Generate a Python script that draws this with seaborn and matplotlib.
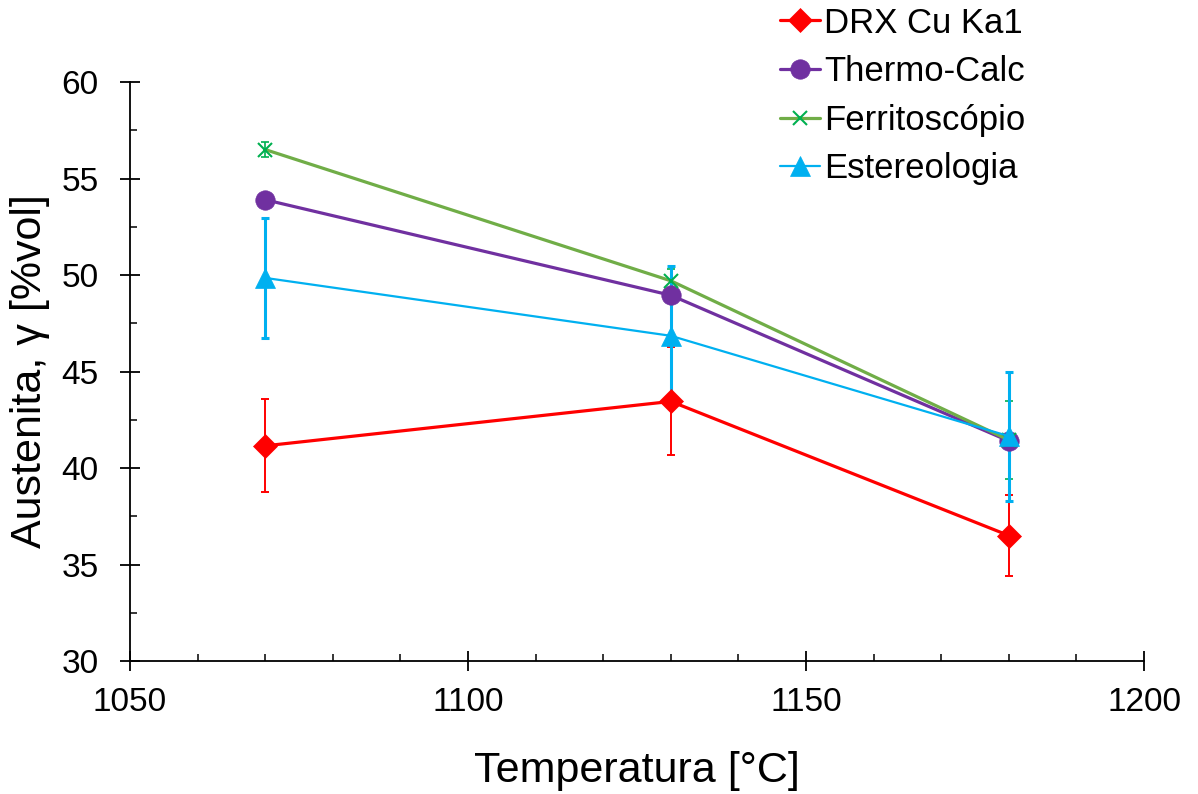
import matplotlib
matplotlib.use("Agg")
import matplotlib.pyplot as plt
from matplotlib.ticker import MultipleLocator
import seaborn as sns
import pandas as pd

temperatures = [1070, 1130, 1180]

series_names = ["DRX Cu Ka1", "Thermo-Calc", "Ferritoscópio", "Estereologia"]
drx_values = [41.15, 43.45, 36.5]
drx_errors = [2.4, 2.8, 2.1]
thermocalc_values = [53.9, 48.95, 41.4]
ferrito_values = [56.5, 49.7, 41.45]
ferrito_errors = [0.4, 0.6, 2.0]
estereo_values = [49.85, 46.85, 41.65]
estereo_errors = [3.1, 3.6, 3.35]

sns.set_style("ticks")
plt.rcParams["font.family"] = ["Liberation Sans", "DejaVu Sans"]
plt.rcParams["text.color"] = "black"
plt.rcParams["axes.labelcolor"] = "black"

fig = plt.figure(figsize=(11.98, 7.94), dpi=100)
ax = fig.add_axes([0.1085, 0.1675, 0.8465, 0.7292])

styles = {
    "DRX Cu Ka1": dict(color="#FF0000", marker="D", ms=12, lw=2.3, mec="#FF0000",
                       ecolor="#FF0000", elw=1.4),
    "Thermo-Calc": dict(color="#7030A0", marker="o", ms=14, lw=2.3, mec="#7030A0",
                        ecolor=None, elw=0),
    "Ferritoscópio": dict(color="#70AD47", marker="x", ms=10, lw=2.3, mec="#00B050",
                          ecolor="#00B050", elw=1.2),
    "Estereologia": dict(color="#00B0F0", marker="^", ms=14, lw=1.6, mec="#00B0F0",
                         ecolor="#00B0F0", elw=2.2),
}
values = {
    "DRX Cu Ka1": (drx_values, drx_errors),
    "Thermo-Calc": (thermocalc_values, None),
    "Ferritoscópio": (ferrito_values, ferrito_errors),
    "Estereologia": (estereo_values, estereo_errors),
}

for name in series_names:
    vals, errs = values[name]
    st = styles[name]
    df = pd.DataFrame({"Temperatura": temperatures, "Austenita": vals})
    if errs is not None:
        ax.errorbar(df["Temperatura"], df["Austenita"], yerr=errs, fmt="none",
                    ecolor=st["ecolor"], elinewidth=st["elw"], capsize=3,
                    capthick=st["elw"], zorder=2)
    sns.lineplot(data=df, x="Temperatura", y="Austenita", ax=ax,
                 color=st["color"], marker=st["marker"], markersize=st["ms"],
                 linewidth=st["lw"], markeredgecolor=st["mec"],
                 markeredgewidth=1.5 if st["marker"] == "x" else 0.5,
                 markerfacecolor=st["mec"], label=name, zorder=3)

ax.set_xlim(1050, 1200)
ax.set_ylim(30, 60)
ax.xaxis.set_major_locator(MultipleLocator(50))
ax.xaxis.set_minor_locator(MultipleLocator(10))
ax.yaxis.set_major_locator(MultipleLocator(5))
ax.yaxis.set_minor_locator(MultipleLocator(2.5))

for side in ["top", "right"]:
    ax.spines[side].set_visible(False)
for side in ["left", "bottom"]:
    ax.spines[side].set_linewidth(1.3)
    ax.spines[side].set_color("black")

ax.tick_params(which="major", direction="inout", length=15, width=1.3,
               labelsize=24, colors="black")
ax.tick_params(axis="x", which="major", pad=11)
ax.tick_params(axis="y", which="major", pad=15)
ax.tick_params(which="minor", direction="in", length=5, width=1.1, colors="black")

ax.set_xlabel("Temperatura [°C]", fontsize=31, labelpad=24)
ax.set_ylabel("Austenita, γ [%vol]", fontsize=31, labelpad=8)

leg = ax.legend(loc="upper left", bbox_to_anchor=(0.634, 1.018), bbox_transform=fig.transFigure,
                frameon=False, fontsize=25, handlelength=1.15, handletextpad=0.12,
                labelspacing=0.45, borderaxespad=0.2)

fig.savefig("out.png", dpi=100)
